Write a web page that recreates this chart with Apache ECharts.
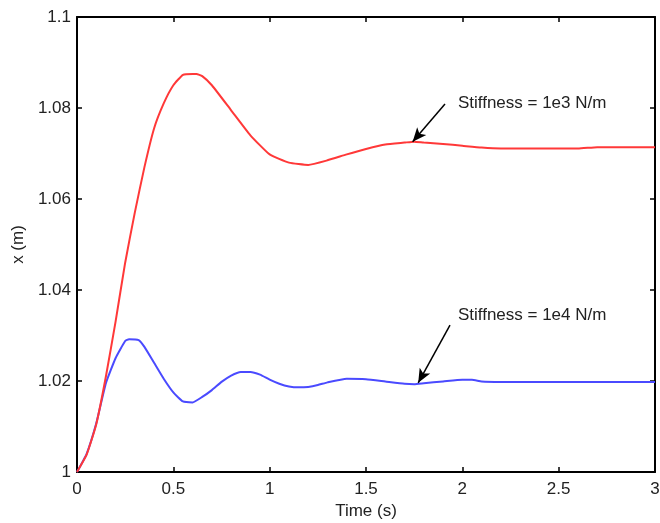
<!DOCTYPE html>
<html>
<head>
<meta charset="utf-8">
<title>Displacement response for two stiffness values</title>
<script src="https://cdn.jsdelivr.net/npm/echarts@6/dist/echarts.min.js"></script>
<style>
  html, body { margin: 0; padding: 0; background: #ffffff; }
  #chart { width: 660px; height: 523px; }
</style>
</head>
<body>
<div id="chart"></div>
<script>
// Response with stiffness = 1e3 N/m
var time1e3 = [0, 0.05, 0.1, 0.15, 0.2, 0.25, 0.3, 0.35, 0.4, 0.45, 0.5, 0.55, 0.6, 0.62, 0.65, 0.7,
  0.8, 0.9, 1.0, 1.1, 1.2, 1.3, 1.4, 1.5, 1.6, 1.7, 1.75, 1.8, 1.9, 2.0, 2.1, 2.2, 2.4, 2.6, 2.7, 2.8, 3.0];
var x1e3 = [1.000, 1.0038, 1.0105, 1.021, 1.033, 1.046, 1.057, 1.067, 1.0755, 1.081, 1.085, 1.0873, 1.0875, 1.0875, 1.087, 1.085,
  1.0795, 1.074, 1.0698, 1.068, 1.0675, 1.0685, 1.0698, 1.071, 1.072, 1.0724, 1.0726, 1.0724, 1.0721, 1.0717, 1.0713, 1.0711, 1.0711, 1.0711, 1.0714, 1.0714, 1.0714];

// Response with stiffness = 1e4 N/m
var time1e4 = [0, 0.05, 0.1, 0.15, 0.2, 0.25, 0.27, 0.32, 0.35, 0.4, 0.45, 0.5, 0.55, 0.6, 0.65, 0.7, 0.75,
  0.8, 0.85, 0.9, 0.95, 1.0, 1.05, 1.1, 1.15, 1.2, 1.25, 1.3, 1.4, 1.5, 1.6, 1.7, 1.75, 1.8, 1.9, 2.0, 2.05, 2.1, 2.2, 3.0];
var x1e4 = [1.000, 1.004, 1.0107, 1.0195, 1.025, 1.0288, 1.0292, 1.029, 1.0275, 1.024, 1.0205, 1.0175, 1.0155, 1.0153, 1.0165, 1.018, 1.0198,
  1.0212, 1.022, 1.022, 1.0214, 1.0203, 1.0194, 1.0188, 1.0186, 1.0187, 1.0191, 1.0197, 1.0205, 1.0204, 1.0199, 1.0194, 1.0193, 1.0195, 1.0199, 1.0203, 1.0203, 1.0199, 1.0198, 1.0198];

// Axis ticks
var timeTicks = [0, 0.5, 1, 1.5, 2, 2.5, 3];
var xTicks = [1, 1.02, 1.04, 1.06, 1.08, 1.1];

// Annotation texts and their anchor points (time, x)
var label1e3 = 'Stiffness = 1e3 N/m';
var label1e3At = [1.977, 1.0811];
var arrow1e3 = [[1.91, 1.0809], [1.742, 1.0726]];

var label1e4 = 'Stiffness = 1e4 N/m';
var label1e4At = [1.977, 1.0345];
var arrow1e4 = [[1.936, 1.0323], [1.771, 1.0196]];

function pairs(t, v) {
  return t.map(function (ti, i) { return [ti, v[i]]; });
}

var FONT = '"Liberation Sans", Arial, Helvetica, sans-serif';
var TEXT = '#222222';
var FS = 17;

function annotate(text, at, arrow) {
  return {
    markPoint: {
      silent: true,
      symbol: 'circle',
      symbolSize: 0,
      data: [{ coord: at }],
      label: {
        show: true, position: 'right', distance: 0, formatter: text,
        color: TEXT, fontSize: FS, fontFamily: FONT
      }
    },
    markLine: {
      silent: true,
      symbol: ['none', 'arrow'],
      symbolSize: [9, 14],
      label: { show: false },
      lineStyle: { color: '#000000', width: 1.5, type: 'solid' },
      emphasis: { disabled: true },
      data: [[{ coord: arrow[0] }, { coord: arrow[1] }]]
    }
  };
}

var tStep = timeTicks[1] - timeTicks[0];
var xStep = Math.round((xTicks[1] - xTicks[0]) * 1000) / 1000;

function valueAxis(extra) {
  var base = {
    type: 'value',
    axisLine: { show: true, onZero: false, lineStyle: { color: '#000000', width: 2 } },
    axisTick: { show: true, inside: true, length: 5, lineStyle: { color: '#000000', width: 1.5 } },
    splitLine: { show: false },
    axisLabel: { show: false }
  };
  return Object.assign(base, extra);
}

var chart = echarts.init(document.getElementById('chart'), null, { renderer: 'canvas' });

var s1 = Object.assign({
  type: 'line',
  name: label1e3,
  data: pairs(time1e3, x1e3),
  showSymbol: false,
  smooth: 0.15,
  lineStyle: { color: '#ff3838', width: 2 },
  itemStyle: { color: '#ff3838' },
  z: 3
}, annotate(label1e3, label1e3At, arrow1e3));

var s2 = Object.assign({
  type: 'line',
  name: label1e4,
  data: pairs(time1e4, x1e4),
  showSymbol: false,
  smooth: 0.15,
  lineStyle: { color: '#4a4aff', width: 2 },
  itemStyle: { color: '#4a4aff' },
  z: 2
}, annotate(label1e4, label1e4At, arrow1e4));

chart.setOption({
  animation: false,
  backgroundColor: '#ffffff',
  grid: { left: 77, right: 5, top: 17, bottom: 51, containLabel: false, outerBoundsMode: 'none' },
  xAxis: [
    valueAxis({
      position: 'bottom',
      min: timeTicks[0], max: timeTicks[timeTicks.length - 1], interval: tStep,
      name: 'Time (s)', nameLocation: 'middle', nameGap: 31,
      nameTextStyle: { color: TEXT, fontSize: FS, fontFamily: FONT },
      axisLabel: { show: true, margin: 9, color: TEXT, fontSize: FS, fontFamily: FONT }
    }),
    valueAxis({
      position: 'top',
      min: timeTicks[0], max: timeTicks[timeTicks.length - 1], interval: tStep
    })
  ],
  yAxis: [
    valueAxis({
      position: 'left',
      min: xTicks[0], max: xTicks[xTicks.length - 1], interval: xStep,
      name: 'x (m)', nameLocation: 'middle', nameGap: 42, nameRotate: 90,
      nameTextStyle: { color: TEXT, fontSize: FS, fontFamily: FONT },
      axisLabel: {
        show: true, margin: 6, color: TEXT, fontSize: FS, fontFamily: FONT,
        formatter: function (v) { return String(Math.round(v * 100) / 100); }
      }
    }),
    valueAxis({
      position: 'right',
      min: xTicks[0], max: xTicks[xTicks.length - 1], interval: xStep
    })
  ],
  series: [s1, s2]
});
</script>
</body>
</html>
